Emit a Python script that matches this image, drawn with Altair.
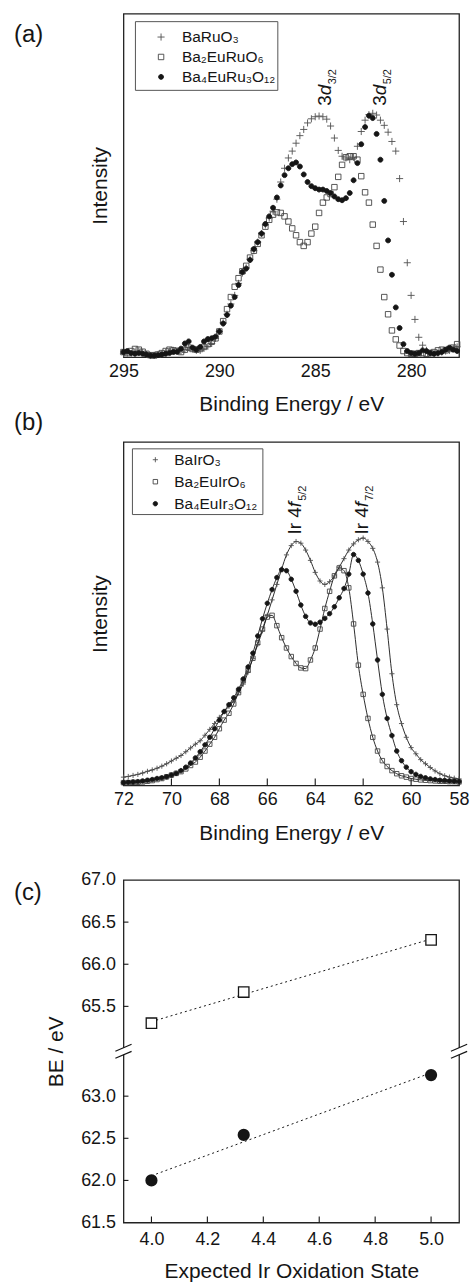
import altair as alt
import pandas as pd

FONT = "Liberation Sans"
W, H, HC = 337, 345, 344

# ---------------- Panel (a): Ru 3d region ----------------
ru_names = ["BaRuO₃", "Ba₂EuRuO₆", "Ba₄EuRu₃O₁₂"]
ru_start, ru_step = 295.0, 0.2
ru_baruo3 = [1.0, 1.2, 1.0, 1.5, 1.8, 1.4, 0.8, 0.5, 0.6, 0.8,
             1.0, 1.4, 1.8, 2.0, 1.8, 1.8, 2.2, 2.8, 2.4, 2.0,
             2.0, 2.6, 3.2, 4.0, 5.5, 7.5, 10.0, 12.5, 15.5, 18.0,
             21.5, 24.5, 26.0, 28.5, 31.0, 33.5, 36.0, 38.5, 40.5, 42.5,
             46.0, 51.0, 55.0, 58.0, 60.0, 62.3, 64.5, 66.3, 68.2, 69.4,
             70.0, 70.2, 70.0, 69.3, 67.3, 63.8, 60.2, 58.5, 58.0, 57.5,
             58.2, 61.4, 65.7, 69.0, 70.6, 71.0, 70.5, 69.0, 67.5, 65.5,
             62.8, 60.0, 52.0, 39.5, 27.5, 18.0, 11.0, 5.8, 3.5, 2.0,
             1.2, 1.0, 1.2, 1.5, 1.8, 2.0, 2.5, 3.0]
ru_ba2euruo6 = [1.5, 1.2, 1.8, 2.4, 2.2, 1.6, 1.0, 0.6, 0.5, 0.8,
                1.2, 1.8, 2.2, 2.0, 1.8, 1.5, 2.2, 2.8, 2.4, 2.2,
                2.4, 3.0, 3.8, 4.5, 5.5, 7.5, 10.5, 14.0, 17.5, 20.5,
                23.0, 25.0, 26.6, 29.0, 31.0, 33.0, 35.5, 38.0, 40.0, 41.5,
                42.2, 42.0, 41.0, 39.5, 37.5, 35.5, 33.5, 32.4, 33.5, 36.0,
                38.0, 42.0, 45.0, 46.5, 47.5, 49.5, 52.5, 56.0, 58.2, 58.5,
                58.5, 57.5, 52.7, 48.0, 45.0, 38.6, 32.4, 25.5, 17.5, 12.5,
                7.8, 5.2, 3.4, 1.8, 1.2, 1.0, 1.0, 1.2, 1.2, 1.0,
                1.2, 1.5, 2.0, 2.2, 2.0, 2.4, 2.8, 3.8]
ru_ba4euru3o12 = [1.5, 1.8, 1.2, 1.0, 1.2, 1.0, 0.8, 0.5, 0.5, 0.6,
                  0.8, 1.0, 1.2, 1.5, 1.6, 2.5, 4.0, 4.6, 2.8, 2.2,
                  3.0, 4.6, 5.3, 5.5, 6.0, 7.5, 9.8, 12.3, 15.0, 17.5,
                  21.0, 24.8, 25.8, 28.3, 31.5, 33.5, 36.0, 38.8, 41.0, 43.5,
                  46.5, 50.0, 53.0, 55.0, 56.2, 56.7, 55.5, 53.2, 51.0, 49.8,
                  49.2, 48.8, 48.8, 48.4, 47.8, 46.8, 46.0, 45.7, 46.3, 47.8,
                  51.5, 56.5, 62.0, 67.0, 70.3, 69.6, 65.0, 57.5, 45.5, 34.0,
                  24.0, 14.5, 8.5, 3.8, 1.8, 1.2, 1.0, 1.2, 2.0, 1.8,
                  1.2, 1.0, 1.2, 1.5, 2.2, 2.8, 2.2, 1.8]

# ---------------- Panel (b): Ir 4f region ----------------
ir_names = ["BaIrO₃", "Ba₂EuIrO₆", "Ba₄EuIr₃O₁₂"]
ir_start, ir_step = 72.0, 0.2
ir_bairo3 = [2.4, 2.6, 2.9, 3.2, 3.6, 4.1, 4.5, 5.0, 5.6, 6.3,
             7.1, 7.9, 8.7, 9.8, 10.9, 12.0, 13.0, 14.6, 16.3, 18.0,
             19.8, 21.5, 23.0, 24.6, 27.0, 29.5, 33.0, 37.0, 41.0, 45.0,
             49.5, 54.0, 58.5, 63.0, 67.1, 69.8, 71.0, 70.5, 68.5, 65.5,
             62.0, 59.5, 58.5, 59.3, 61.0, 63.5, 66.0, 68.5, 70.3, 71.5,
             72.0, 71.0, 69.0, 65.0, 57.5, 45.5, 32.5, 23.5, 18.0, 14.0,
             11.0, 9.2, 7.5, 6.3, 5.2, 4.2, 3.4, 2.8, 2.4, 2.1, 1.9]
ir_ba2euiro6 = [0.8, 0.8, 0.9, 0.9, 1.0, 1.2, 1.4, 1.7, 2.0, 2.5,
                3.0, 3.5, 4.0, 4.8, 5.8, 6.8, 8.2, 10.0, 12.0, 14.0,
                16.5, 19.0, 21.0, 23.7, 27.0, 30.5, 33.5, 37.0, 41.5, 45.5,
                49.0, 49.5, 46.5, 43.0, 40.0, 37.5, 35.5, 34.2, 34.0, 36.5,
                40.0, 45.5, 51.5, 56.5, 61.0, 63.3, 62.5, 57.5, 47.0, 35.0,
                26.5, 19.5, 14.0, 10.0, 7.2, 5.5, 4.3, 3.4, 2.8, 2.4,
                2.0, 1.8, 1.6, 1.5, 1.4, 1.3, 1.2, 1.2, 1.1, 1.1, 1.0]
ir_ba4euir3o12 = [0.8, 0.9, 1.0, 1.1, 1.3, 1.5, 1.7, 2.0, 2.2, 2.5,
                  3.0, 3.5, 4.3, 5.3, 6.5, 8.0, 9.8, 11.8, 14.0, 16.5,
                  19.0, 21.5, 23.5, 25.5, 28.0, 31.0, 34.5, 38.5, 43.5, 48.5,
                  53.0, 57.0, 60.5, 62.8, 62.5, 60.0, 56.5, 52.5, 49.2, 47.3,
                  46.9, 47.5, 48.6, 50.0, 52.0, 54.6, 57.3, 61.5, 67.2, 65.5,
                  61.5, 56.0, 47.0, 36.5, 26.5, 19.5, 14.5, 10.0, 7.2, 5.3,
                  4.0, 3.2, 2.6, 2.2, 1.9, 1.7, 1.5, 1.4, 1.3, 1.2, 1.1]

# ---------------- Panel (c): BE vs oxidation state ----------------
ox_state = [4.0, 4.33, 5.0]
be_4f52 = [65.30, 65.67, 66.29]
be_4f72 = [62.00, 62.54, 63.25]
BREAK_OFFSET = 1.434  # upper segment shifted down by this amount

# annotations
ann_a_energy = [284.16, 281.31]
ann_a_level = [73.2, 73.2]
ann_a_sub = ["3/2", "5/2"]
ann_b_energy = [64.6, 61.81]
ann_b_level = [73.0, 73.0]
ann_b_sub = ["5/2", "7/2"]

# legend placement (data coordinates of the symbol column and rows)
leg_a_energy, leg_a_rows = 293.04, [93.2, 87.4, 81.6]
leg_b_energy, leg_b_rows = 70.67, [94.8, 88.4, 82.0]


def long_df(names, start, step, series):
    rows = []
    for name, vals in zip(names, series):
        for i, v in enumerate(vals):
            rows.append({"series": name, "energy": round(start - step * i, 2), "intensity": v})
    return pd.DataFrame(rows)


df_a = long_df(ru_names, ru_start, ru_step, [ru_baruo3, ru_ba2euruo6, ru_ba4euru3o12])
df_b = long_df(ir_names, ir_start, ir_step, [ir_bairo3, ir_ba2euiro6, ir_ba4euir3o12])

PLUS_A = "M-1.3,0L1.3,0M0,-1.3L0,1.3"
PLUS_B = "M-1.15,0L1.15,0M0,-1.15L0,1.15"
SQUARE = "M-1,-1L1,-1L1,1L-1,1Z"
CIRC_A = "M-0.9,0A0.9,0.9,0,1,0,0.9,0A0.9,0.9,0,1,0,-0.9,0Z"
CIRC_B = "M-1,0A1,1,0,1,0,1,0A1,1,0,1,0,-1,0Z"

INK = "#151515"


def intensity_panel(df, names, domain, ticks, plus, circ, size,
                    box, leg_e, leg_rows, leg_dx,
                    ann_e, ann_l, ann_main, ann_ital, ann_sub, ital_dx, sub_dx,
                    draw_lines, inward_ticks, label_text, label_y):
    xs = alt.Scale(domain=domain, reverse=True, nice=False, zero=False)
    xax = alt.Axis(values=ticks, title="Binding Energy / eV", ticks=False, domain=False,
                   grid=False, labelPadding=5, titlePadding=14, labelFlush=False, format="d")
    ys = alt.Scale(domain=[0, 100], nice=False, zero=False)
    yax = alt.Axis(title="Intensity", labels=False, ticks=False, domain=False, grid=False,
                   titlePadding=13)
    X = alt.X("energy:Q", scale=xs, axis=xax)
    Y = alt.Y("intensity:Q", scale=ys, axis=yax)

    enc_style = dict(
        shape=alt.Shape("series:N", scale=alt.Scale(domain=names, range=[plus, SQUARE, circ]), legend=None),
        fill=alt.Fill("series:N", scale=alt.Scale(domain=names, range=["transparent", "transparent", INK]), legend=None),
        stroke=alt.Stroke("series:N", scale=alt.Scale(domain=names, range=["#505050", "#454545", INK]), legend=None),
    )
    layers = []
    if draw_lines:
        layers.append(alt.Chart(df).mark_line(color=INK, strokeWidth=0.9, interpolate="monotone").encode(
            x=X, y=Y, detail="series:N"))
    layers.append(alt.Chart(df).mark_point(size=size, strokeWidth=0.9, opacity=1).encode(x=X, y=Y, **enc_style))
    if inward_ticks:
        tdf = pd.DataFrame({"energy": [t for t in ticks if min(domain) < t < max(domain)]})
        layers.append(alt.Chart(tdf).mark_rule(color=INK, strokeWidth=1.1).encode(
            x=X, y=alt.value(H), y2=alt.value(H - 7)))
    # legend box + entries
    layers.append(alt.Chart(pd.DataFrame({"k": [0]})).mark_rect(
        fill="white", stroke="#555555", strokeWidth=1).encode(
        x=alt.value(box[0]), x2=alt.value(box[1]), y=alt.value(box[2]), y2=alt.value(box[3])))
    ldf = pd.DataFrame({"series": names, "energy": [leg_e] * 3, "intensity": leg_rows})
    layers.append(alt.Chart(ldf).mark_point(size=size, strokeWidth=0.9, opacity=1).encode(
        x=X, y=Y, **enc_style))
    layers.append(alt.Chart(ldf).mark_text(align="left", baseline="middle", dx=leg_dx, font=FONT,
                                           fontSize=15.5, color=INK).encode(x=X, y=Y, text="series:N"))
    # peak annotations
    adf = pd.DataFrame({"energy": ann_e, "intensity": ann_l, "main": ann_main,
                        "ital": ann_ital, "sub": ann_sub})
    tb = alt.Chart(adf)
    layers.append(tb.mark_text(angle=270, align="left", baseline="alphabetic", font=FONT,
                               fontSize=19, color=INK).encode(x=X, y=Y, text="main:N"))
    layers.append(tb.mark_text(angle=270, align="left", baseline="alphabetic", font=FONT,
                               fontSize=19, fontStyle="italic", dx=ital_dx, color=INK).encode(
        x=X, y=Y, text="ital:N"))
    layers.append(tb.mark_text(angle=270, align="left", baseline="alphabetic", font=FONT,
                               fontSize=11, dx=sub_dx, dy=5, color=INK).encode(x=X, y=Y, text="sub:N"))
    layers.append(alt.Chart(pd.DataFrame({"t": [label_text]})).mark_text(
        align="left", baseline="top", font=FONT, fontSize=24, color=INK).encode(
        text="t:N", x=alt.value(-110), y=alt.value(label_y)))
    return alt.layer(*layers).properties(width=W, height=H)


panel_a = intensity_panel(df_a, ru_names, [277.5, 295], [295, 290, 285, 280], PLUS_A, CIRC_A, 30,
                          (12, 155, 8, 77), leg_a_energy, leg_a_rows, 21,
                          ann_a_energy, ann_a_level, ["3", "3"], ["d", "d"],
                          ann_a_sub, 10.6, 21.5, False, False, "(a)", 9)
panel_b = intensity_panel(df_b, ir_names, [58, 72], [72, 70, 68, 66, 64, 62, 60, 58], PLUS_B, CIRC_B, 20,
                          (9, 140, 7, 73), leg_b_energy, leg_b_rows, 19,
                          ann_b_energy, ann_b_level, ["Ir 4", "Ir 4"], ["f", "f"],
                          ann_b_sub, 27.5, 34, True, True, "(b)", -31)

# ---------------- Panel (c) ----------------
df_c = pd.DataFrame({
    "ox": ox_state + ox_state,
    "be": be_4f52 + be_4f72,
    "series": ["4f5/2"] * 3 + ["4f7/2"] * 3,
})
calc = f"datum.be > 64 ? datum.be - {BREAK_OFFSET} : datum.be"
y_ticks_real = [61.5, 62.0, 62.5, 63.0, 65.5, 66.0, 66.5, 67.0]
y_ticks_plot = [v - BREAK_OFFSET if v > 64 else v for v in y_ticks_real]
ytop = 67.0 - BREAK_OFFSET

xcs = alt.Scale(domain=[3.9, 5.1], nice=False, zero=False)
xcax = alt.Axis(values=[4.0, 4.2, 4.4, 4.6, 4.8, 5.0], format=".1f", title="Expected Ir Oxidation State",
                ticks=False, domain=False, grid=False, labelPadding=8, titlePadding=12, labelFlush=False)
ycs = alt.Scale(domain=[61.5, ytop], nice=False, zero=False)
ycax = alt.Axis(values=y_ticks_plot, title="BE / eV", ticks=False, domain=False, grid=False,
                labelPadding=8, titlePadding=14, labelFlush=False, labelOverlap=False,
                labelExpr=f"format(datum.value > 63.6 ? datum.value + {BREAK_OFFSET} : datum.value, '.1f')")

base_c = alt.Chart(df_c).transform_calculate(yplot=calc)
XC = alt.X("ox:Q", scale=xcs, axis=xcax)
YC = alt.Y("yplot:Q", scale=ycs, axis=ycax)

fit_c = base_c.transform_regression("ox", "yplot", groupby=["series"]).mark_line(
    color=INK, strokeWidth=1, strokeDash=[2, 3]).encode(x=XC, y=YC, detail="series:N")
sq_c = base_c.transform_filter("datum.series == '4f5/2'").mark_point(
    shape="square", size=110, fill="white", stroke=INK, strokeWidth=1.3, opacity=1, filled=False).encode(x=XC, y=YC)
ci_c = base_c.transform_filter("datum.series == '4f7/2'").mark_point(
    shape="circle", size=105, fill=INK, stroke=INK, filled=True, opacity=1).encode(x=XC, y=YC)

yt_df = pd.DataFrame({"yplot": y_ticks_plot[1:-1]})
ytick_c = alt.Chart(yt_df).mark_rule(color=INK, strokeWidth=1.1).encode(
    y=YC, x=alt.value(0), x2=alt.value(5))
xt_df = pd.DataFrame({"ox": [4.0, 4.2, 4.4, 4.6, 4.8, 5.0]})
xtick_c = alt.Chart(xt_df).mark_rule(color=INK, strokeWidth=1.1).encode(
    x=XC, y=alt.value(HC), y2=alt.value(HC - 6))

ybrk = 63.533
brk_edges = [3.9, 5.1]
brk_df = pd.DataFrame({
    "ox": [e - 0.029 for e in brk_edges for _ in (0, 1)],
    "ox2": [e + 0.029 for e in brk_edges for _ in (0, 1)],
    "yplot": [ybrk + d - 0.041 for _ in brk_edges for d in (0.042, -0.042)],
    "y2": [ybrk + d + 0.041 for _ in brk_edges for d in (0.042, -0.042)],
})
gap_df = pd.DataFrame({"ox": [e - 0.008 for e in brk_edges], "ox2": [e + 0.008 for e in brk_edges],
                       "yplot": [ybrk - 0.04] * 2, "y2": [ybrk + 0.04] * 2})
gap_c = alt.Chart(gap_df).mark_rect(color="white").encode(x=XC, x2="ox2:Q", y=YC, y2="y2:Q")
brk_c = alt.Chart(brk_df).mark_rule(color=INK, strokeWidth=1.2).encode(x=XC, x2="ox2:Q", y=YC, y2="y2:Q")
lab_c = alt.Chart(pd.DataFrame({"t": ["(c)"]})).mark_text(
    align="left", baseline="top", font=FONT, fontSize=24, color=INK).encode(
    text="t:N", x=alt.value(-110), y=alt.value(1))

panel_c = alt.layer(ytick_c, xtick_c, fit_c, sq_c, ci_c, gap_c, brk_c, lab_c).properties(width=W, height=HC)


def spacer(h):
    return alt.Chart(pd.DataFrame({"s": [0]})).mark_point(opacity=0, size=1).encode(
        x=alt.X("s:Q", axis=None), y=alt.Y("s:Q", axis=None)
    ).properties(width=W, height=h, view=alt.ViewBackground(stroke="transparent"))


chart = alt.vconcat(panel_a, spacer(85), panel_b, spacer(95), panel_c, spacing=0, bounds="flush").resolve_scale(
    shape="independent", fill="independent", stroke="independent"
).properties(
    padding={"left": 13, "top": 10, "right": 0, "bottom": 2}
).configure_view(stroke="#222222", strokeWidth=1.3).configure_axis(
    labelFont=FONT, titleFont=FONT, labelFontSize=18, titleFontSize=21,
    labelColor=INK, titleColor=INK, titleFontWeight="normal"
)

chart.save("out.html", embed_options={"renderer": "svg", "actions": False})
